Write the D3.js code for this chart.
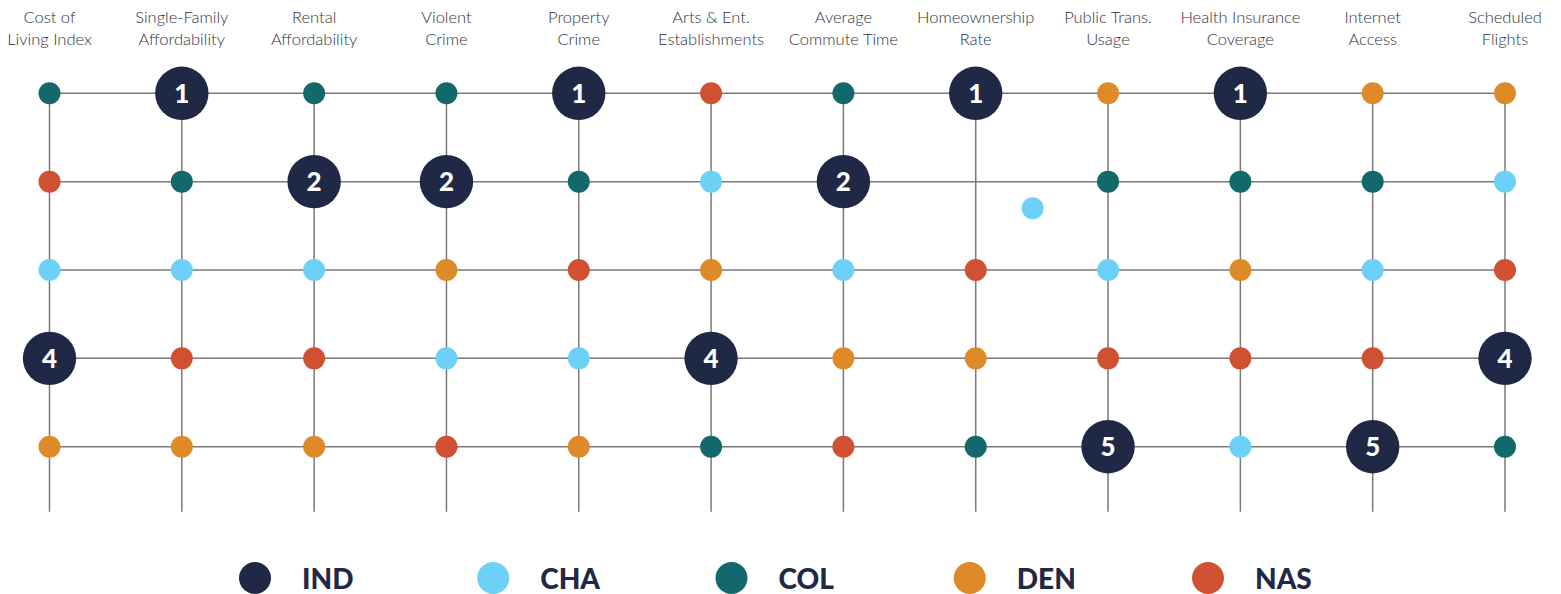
<!DOCTYPE html>
<html>
<head>
<meta charset="utf-8">
<script src="https://cdn.jsdelivr.net/npm/d3@7"></script>
<style>
  html, body { margin: 0; padding: 0; background: #ffffff; }
  svg { display: block; }
</style>
</head>
<body>
<svg id="chart" width="1561" height="594"></svg>
<script>
// ---- DATA ----
const categories = [
  ["Cost of", "Living Index"],
  ["Single-Family", "Affordability"],
  ["Rental", "Affordability"],
  ["Violent", "Crime"],
  ["Property", "Crime"],
  ["Arts & Ent.", "Establishments"],
  ["Average", "Commute Time"],
  ["Homeownership", "Rate"],
  ["Public Trans.", "Usage"],
  ["Health Insurance", "Coverage"],
  ["Internet", "Access"],
  ["Scheduled", "Flights"]
];
const seriesNames = ["IND", "CHA", "COL", "DEN", "NAS"];
const seriesColors = ["#1f2845", "#6dd0f6", "#12686a", "#df8a28", "#d05132"];
const rankTicks = [1, 2, 3, 4, 5];

// ranks per category
const rankIND = [4, 1, 2, 2, 1, 4, 2, 1, 5, 1, 5, 4];
const rankCHA = [3, 3, 3, 4, 4, 2, 3, 2.3, 3, 5, 3, 2];
const rankCOL = [1, 2, 1, 1, 2, 5, 1, 5, 2, 2, 2, 5];
const rankDEN = [5, 5, 5, 3, 5, 3, 4, 4, 1, 3, 1, 1];
const rankNAS = [2, 4, 4, 5, 3, 1, 5, 3, 4, 4, 4, 3];
// horizontal displacement (in category steps) of a misplaced marker in the original
const columnShiftCHA = [0, 0, 0, 0, 0, 0, 0, 0.43, 0, 0, 0, 0];
const columnShiftOthers = [0, 0, 0, 0, 0, 0, 0, 0, 0, 0, 0, 0];

const seriesRanks = [rankIND, rankCHA, rankCOL, rankDEN, rankNAS];
const seriesShifts = [columnShiftOthers, columnShiftCHA, columnShiftOthers, columnShiftOthers, columnShiftOthers];

// ---- LAYOUT ----
const svg = d3.select("#chart");
const x = d3.scaleLinear().domain([0, categories.length - 1]).range([49.5, 1505]);
const y = d3.scaleLinear().domain([1, 5]).range([93.3, 446.7]);
const gridColor = "#7a7a7a";
const labelFont = "Lato, 'Open Sans', sans-serif";

// grid: horizontal lines
svg.append("g").selectAll("line").data(rankTicks).join("line")
  .attr("x1", x(0)).attr("x2", x(categories.length - 1))
  .attr("y1", d => y(d)).attr("y2", d => y(d))
  .attr("stroke", gridColor).attr("stroke-width", 1.5);

// grid: vertical lines
svg.append("g").selectAll("line").data(categories).join("line")
  .attr("x1", (d, i) => x(i)).attr("x2", (d, i) => x(i))
  .attr("y1", y(1)).attr("y2", y(5) + 65)
  .attr("stroke", gridColor).attr("stroke-width", 1.5);

// header labels
const hdr = svg.append("g").selectAll("text").data(categories).join("text")
  .attr("x", (d, i) => x(i))
  .attr("text-anchor", "middle")
  .attr("font-family", labelFont)
  .attr("font-weight", 300)
  .attr("font-size", 16.5)
  .attr("fill", "#2f3240");
hdr.append("tspan").attr("x", (d, i) => x(i)).attr("y", 23).text(d => d[0]);
hdr.append("tspan").attr("x", (d, i) => x(i)).attr("y", 45).text(d => d[1]);

// markers: small series first, then IND on top
const points = [];
seriesNames.forEach((name, s) => {
  seriesRanks[s].forEach((r, c) => {
    points.push({ s, name, c, r, shift: seriesShifts[s][c] });
  });
});
const small = points.filter(p => p.s !== 0);
const big = points.filter(p => p.s === 0);

svg.append("g").selectAll("circle").data(small).join("circle")
  .attr("cx", d => x(d.c + d.shift))
  .attr("cy", d => y(d.r))
  .attr("r", 11)
  .attr("fill", d => seriesColors[d.s]);

const bg = svg.append("g").selectAll("g").data(big).join("g")
  .attr("transform", d => `translate(${x(d.c)},${y(d.r)})`);
bg.append("circle").attr("r", 26.7).attr("fill", seriesColors[0]);
bg.append("text")
  .attr("text-anchor", "middle")
  .attr("dy", "0.36em")
  .attr("font-family", labelFont)
  .attr("font-weight", 900)
  .attr("font-size", 26)
  .attr("fill", "#ffffff")
  .text(d => d.r);

// legend
const legendX = d3.scalePoint().domain(seriesNames).range([255, 1208]);
const lg = svg.append("g").selectAll("g").data(seriesNames).join("g")
  .attr("transform", d => `translate(${legendX(d)},578)`);
lg.append("circle").attr("r", 16).attr("fill", (d, i) => seriesColors[i]);
lg.append("text")
  .attr("x", 47)
  .attr("y", 11)
  .attr("font-family", labelFont)
  .attr("font-weight", 900)
  .attr("font-size", 28)
  .attr("fill", "#1f2845")
  .text(d => d);
</script>
</body>
</html>
